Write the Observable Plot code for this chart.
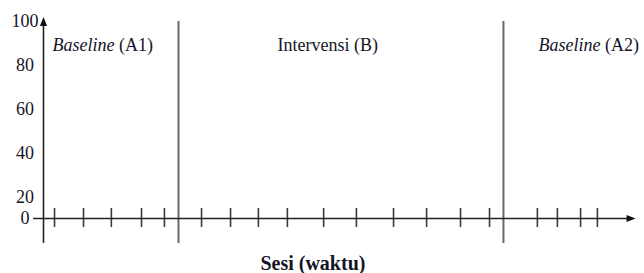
<!DOCTYPE html>
<html><head><meta charset="utf-8">
<script src="https://cdn.jsdelivr.net/npm/d3@7"></script>
<script src="https://cdn.jsdelivr.net/npm/@observablehq/plot@0.6"></script>
<style>body{margin:0;background:#fff}</style>
</head><body><div id="chart"></div>
<script>
// values (session units on x, score on y)
const yTicks = [0, 20, 40, 60, 80, 100];
const sessionTicks = [0.38, 1.38, 2.34, 3.38, 4.17, 5.45, 6.45, 7.41, 8.41, 9.66, 10.79, 12.07, 13.21, 14.38, 15.38, 17.03, 17.72, 18.52, 19.1];
const phaseBoundaries = [4.655, 15.86];
const phaseLabels = ["Baseline (A1)", "Intervensi (B)", "Baseline (A2)"];
const phaseLabelStart = [0.31, 8.07, 17.07];
const xTitle = "Sesi (waktu)";
const xTitleAt = 9.29;
const axisStart = -0.34, axisEnd = 20.26;
const yBottom = -23.8, yTop = 100;

// the drawn y axis is compressed between 0 and 20 (hand-drawn schematic)
const yWarp = v => v <= 20 ? v * 1.05 : 21 + (v - 20) * 2.2;

const arrowUp = {draw(ctx, size) { const r = Math.sqrt(size / Math.PI); ctx.moveTo(0, -r); ctx.lineTo(r * 0.8, r); ctx.lineTo(-r * 0.8, r); ctx.closePath(); }};
const arrowRight = {draw(ctx, size) { const r = Math.sqrt(size / Math.PI); ctx.moveTo(r, 0); ctx.lineTo(-r, r * 0.8); ctx.lineTo(-r, -r * 0.8); ctx.closePath(); }};

const font = "Liberation Serif, Times New Roman, serif";
const phaseData = phaseLabels.map((t, i) => ({t, x: phaseLabelStart[i]}));

const chart = Plot.plot({
  width: 644, height: 273, margin: 0,
  style: {background: "#fff", color: "#111"},
  x: {domain: [0, 20], range: [43, 623], axis: null},
  y: {transform: yWarp, domain: [0, yWarp(100)], range: [218, 21], axis: null},
  marks: [
    Plot.ruleX(phaseBoundaries, {y1: yBottom, y2: yTop, stroke: "#6a6a6a", strokeWidth: 2}),
    Plot.ruleX(sessionTicks, {y1: -8.6, y2: 9.5, stroke: "#3a3a3a", strokeWidth: 1.6}),
    Plot.ruleY([0], {x1: axisStart, x2: axisEnd, stroke: "#222", strokeWidth: 1.6}),
    Plot.ruleX([0], {y1: yBottom, y2: yTop, stroke: "#222", strokeWidth: 1.6}),
    Plot.dot([0], {x: 0, y: yTop, symbol: arrowUp, r: 4.5, fill: "#111", stroke: "none"}),
    Plot.dot([0], {x: axisEnd, y: 0, symbol: arrowRight, r: 4.5, fill: "#111", stroke: "none"}),
    Plot.text(yTicks, {x: 0, y: d => d, text: d => String(d), dx: -18.5, textAnchor: "middle", fontFamily: font, fontSize: 18, fill: "#151528"}),
    Plot.text(phaseData, {x: "x", y: 86.8, text: "t", textAnchor: "start", lineAnchor: "bottom", fontFamily: font, fontSize: 18, fill: "#151528"}),
    Plot.text([xTitle], {x: xTitleAt, y: -43.4, text: d => d, textAnchor: "middle", fontFamily: font, fontSize: 20, fontWeight: "bold", fill: "#151528"})
  ]
});
document.getElementById("chart").appendChild(chart);

// italicise the word "Baseline" inside the phase labels
d3.select(chart).selectAll("text").each(function() {
  const el = this;
  const target = el.querySelector("tspan") || el;
  const s = target.textContent;
  if (s.startsWith("Baseline ")) {
    target.textContent = "";
    d3.select(target).append("tspan").attr("font-style", "italic").text("Baseline");
    d3.select(target).append("tspan").text(s.slice(8));
  }
});
</script>
</body></html>
